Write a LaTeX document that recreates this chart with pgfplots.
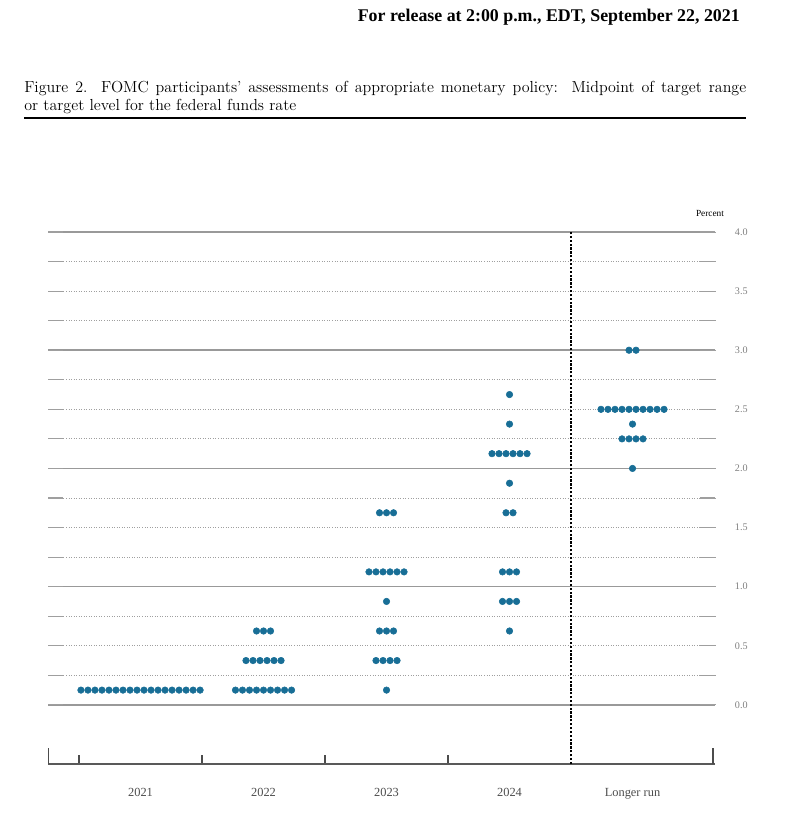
\documentclass[border=0pt]{standalone}
\usepackage{fontspec}
\usepackage{pgfplots}
\pgfplotsset{compat=1.18}
\newfontfamily\timesfont{Liberation Serif}
\definecolor{dotblue}{RGB}{24,110,150}
\pgfplotsset{dots/.style={only marks, mark=*, mark size=2.45pt,
    mark options={fill=dotblue, draw=dotblue}}}

\begin{document}
\begin{tikzpicture}
\useasboundingbox (0,0) rectangle (600pt,610.5pt);
% header and title
\node[anchor=base east, inner sep=0pt, font=\timesfont\bfseries\fontsize{13.4}{15}\selectfont]
  at (555pt,594pt) {For release at 2:00 p.m., EDT, September 22, 2021};
\node[anchor=base west, inner sep=0pt, font=\fontsize{12}{14}\selectfont]
  at (18pt,541pt) {\makebox[541.5pt][s]{Figure 2.\ \ FOMC participants’ assessments of appropriate monetary policy:\ \ Midpoint of target range}};
\node[anchor=base west, inner sep=0pt, font=\fontsize{12}{14}\selectfont]
  at (18pt,527.5pt) {or target level for the federal funds rate};
\draw[line width=1.5pt] (18pt,522pt) -- (559.5pt,522pt);
\node[font=\timesfont\fontsize{7}{8}\selectfont] at (532.5pt,450.75pt) {Percent};

\begin{axis}[
  at={(36.2pt,37.5pt)}, anchor=south west, scale only axis,
  width=500pt, height=399pt,
  xmin=0.25, xmax=5.67, ymin=-0.5, ymax=4,
  axis x line=bottom, axis y line=box,
  x axis line style={-, draw=gray!70!black, line width=1pt},
  y axis line style={draw=none},
  xtick={1,2,3,4,5},
  xticklabels={2021,2022,2023,2024,Longer run},
  minor xtick={0.5,1.5,2.5,3.5},
  major x tick style={draw=none},
  minor x tick style={draw=gray!60!black, line width=0.9pt},
  minor tick length=7pt, major tick length=11pt, tick align=inside,
  ytick={0,0.25,...,4},
  yticklabels={0.0,,0.5,,1.0,,1.5,,2.0,,2.5,,3.0,,3.5,,4.0},
  yticklabel pos=right,
  major y tick style={draw=gray!75, line width=0.9pt},
  ymajorgrids,
  major grid style={gray!75, line width=0.6pt, dash pattern=on 0.6pt off 1.3pt},
  extra y ticks={0,1,2,3,4}, extra y tick labels={},
  extra y tick style={grid=major, major grid style={solid, draw=gray!80, line width=1.1pt}},
  yticklabel style={font=\timesfont\fontsize{7.6}{9}\selectfont, text=gray, anchor=west, xshift=11.5pt},
  xticklabel style={font=\timesfont\fontsize{9.3}{11}\selectfont, text=black!70, yshift=-14.5pt},
  clip=false,
]
% 2021
\addplot[dots] coordinates {
  (0.5155,0.125) (0.5725,0.125) (0.6295,0.125) (0.6865,0.125) (0.7435,0.125) (0.8005,0.125)
  (0.8575,0.125) (0.9145,0.125) (0.9715,0.125) (1.0285,0.125) (1.0855,0.125) (1.1425,0.125)
  (1.1995,0.125) (1.2565,0.125) (1.3135,0.125) (1.3705,0.125) (1.4275,0.125) (1.4845,0.125)};
% 2022
\addplot[dots] coordinates {
  (1.772,0.125) (1.829,0.125) (1.886,0.125) (1.943,0.125) (2.000,0.125) (2.057,0.125)
  (2.114,0.125) (2.171,0.125) (2.228,0.125)
  (1.8575,0.375) (1.9145,0.375) (1.9715,0.375) (2.0285,0.375) (2.0855,0.375) (2.1425,0.375)
  (1.943,0.625) (2.000,0.625) (2.057,0.625)};
% 2023
\addplot[dots] coordinates {
  (3.000,0.125)
  (2.9145,0.375) (2.9715,0.375) (3.0285,0.375) (3.0855,0.375)
  (2.943,0.625) (3.000,0.625) (3.057,0.625)
  (3.000,0.875)
  (2.8575,1.125) (2.9145,1.125) (2.9715,1.125) (3.0285,1.125) (3.0855,1.125) (3.1425,1.125)
  (2.943,1.625) (3.000,1.625) (3.057,1.625)};
% 2024
\addplot[dots] coordinates {
  (4.000,0.625)
  (3.943,0.875) (4.000,0.875) (4.057,0.875)
  (3.943,1.125) (4.000,1.125) (4.057,1.125)
  (3.9715,1.625) (4.0285,1.625)
  (4.000,1.875)
  (3.8575,2.125) (3.9145,2.125) (3.9715,2.125) (4.0285,2.125) (4.0855,2.125) (4.1425,2.125)
  (4.000,2.375)
  (4.000,2.625)};
% Longer run
\addplot[dots] coordinates {
  (5.000,2.0)
  (4.9145,2.25) (4.9715,2.25) (5.0285,2.25) (5.0855,2.25)
  (5.000,2.375)
  (4.7435,2.5) (4.8005,2.5) (4.8575,2.5) (4.9145,2.5) (4.9715,2.5)
  (5.0285,2.5) (5.0855,2.5) (5.1425,2.5) (5.1995,2.5) (5.2565,2.5)
  (4.9715,3.0) (5.0285,3.0)};
% separator and end ticks
\draw[black, line width=1.7pt, dash pattern=on 1.7pt off 1.2pt] (axis cs:4.5,-0.5) -- (axis cs:4.5,4);
\draw[gray!60!black, line width=1pt] (axis cs:0.25,-0.5) -- ++(0pt,12pt);
\draw[gray!60!black, line width=1pt] (axis cs:5.655,-0.5) -- ++(0pt,12pt);
\end{axis}
\end{tikzpicture}
\end{document}
